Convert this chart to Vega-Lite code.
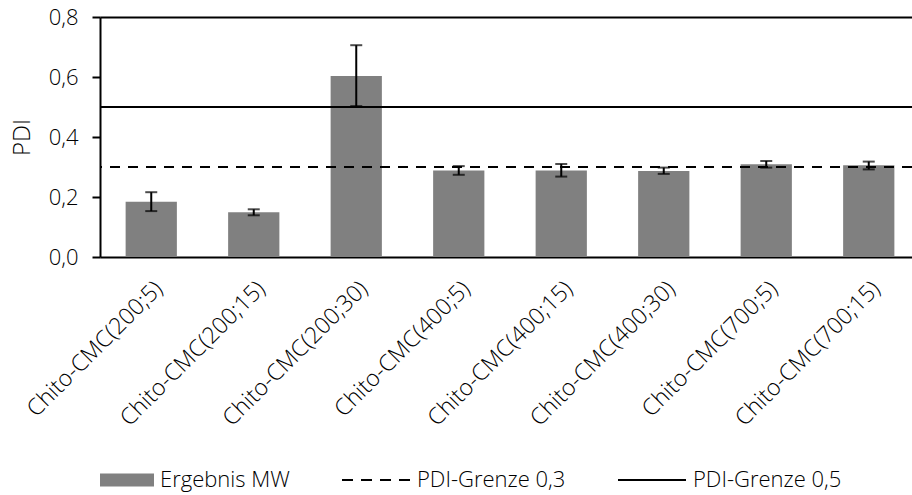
{
  "$schema": "https://vega.github.io/schema/vega-lite/v6.json",
  "autosize": {"type": "none"},
  "width": 812,
  "height": 240,
  "padding": {"left": 100, "top": 17, "right": 0, "bottom": 238},
  "background": "white",
  "config": {
    "view": {"stroke": null},
    "font": "Open Sans",
    "axis": {"labelFont": "Open Sans", "titleFont": "Open Sans", "labelColor": "#000000", "titleColor": "#000000", "labelFontWeight": 300, "titleFontWeight": 300},
    "legend": {"labelFont": "Open Sans", "labelColor": "#000000", "labelFontWeight": 300}
  },
  "data": {
    "values": [
      {"probe": "Chito-CMC(200;5)", "mw": 0.184, "lo": 0.153, "hi": 0.216},
      {"probe": "Chito-CMC(200;15)", "mw": 0.149, "lo": 0.139, "hi": 0.159},
      {"probe": "Chito-CMC(200;30)", "mw": 0.603, "lo": 0.503, "hi": 0.706},
      {"probe": "Chito-CMC(400;5)", "mw": 0.288, "lo": 0.274, "hi": 0.303},
      {"probe": "Chito-CMC(400;15)", "mw": 0.288, "lo": 0.268, "hi": 0.310},
      {"probe": "Chito-CMC(400;30)", "mw": 0.287, "lo": 0.277, "hi": 0.298},
      {"probe": "Chito-CMC(700;5)", "mw": 0.309, "lo": 0.298, "hi": 0.320},
      {"probe": "Chito-CMC(700;15)", "mw": 0.306, "lo": 0.292, "hi": 0.318}
    ]
  },
  "encoding": {
    "x": {
      "field": "probe",
      "type": "nominal",
      "sort": null,
      "scale": {"range": [0, 820], "paddingInner": 0.5, "paddingOuter": 0.25},
      "axis": {
        "title": null,
        "labelAngle": -45,
        "labelFontSize": 23,
        "labelPadding": 20,
        "ticks": false,
        "domainColor": "#000000",
        "domainWidth": 2,
        "labelLimit": 400
      }
    }
  },
  "layer": [
    {
      "mark": {"type": "bar", "color": "#808080"},
      "encoding": {
        "y": {
          "field": "mw",
          "type": "quantitative",
          "scale": {"domain": [0, 0.8], "nice": false},
          "axis": {
            "title": "PDI",
            "titleFontSize": 24,
            "titlePadding": 14,
            "values": [0, 0.2, 0.4, 0.6, 0.8],
            "labelExpr": "replace(format(datum.value, '.1f'), '.', ',')",
            "labelFontSize": 22,
            "labelPadding": 14,
            "tickSize": 8,
            "tickWidth": 2,
            "tickColor": "#000000",
            "domainColor": "#000000",
            "domainWidth": 2,
            "grid": true,
            "gridColor": "#000000",
            "gridWidth": 2,
            "gridOpacity": {"condition": {"test": "datum.value > 0.7", "value": 1}, "value": 0}
          }
        },
        "color": {
          "datum": "Ergebnis MW",
          "type": "nominal",
          "scale": {"domain": ["Ergebnis MW", "PDI-Grenze 0,3", "PDI-Grenze 0,5"], "range": ["#808080", "#000000", "#000000"]},
          "legend": {
            "title": null,
            "orient": "none",
            "legendX": -16,
            "legendY": 428,
            "direction": "horizontal",
            "columns": 3,
            "columnPadding": 48,
            "labelFontSize": 22,
            "labelOffset": 6,
            "symbolSize": 4624,
            "encode": {
              "symbols": {
                "update": {
                  "shape": {"signal": "datum.value === 'Ergebnis MW' ? 'M-0.53,-0.16H1V0.16H-0.53Z' : 'M-1,0H1'"},
                  "fill": {"signal": "datum.value === 'Ergebnis MW' ? '#808080' : 'transparent'"},
                  "stroke": {"signal": "datum.value === 'Ergebnis MW' ? 'transparent' : '#000000'"},
                  "strokeDash": {"signal": "datum.value === 'PDI-Grenze 0,3' ? [11, 8] : [1, 0]"},
                  "strokeWidth": {"value": 2},
                  "opacity": {"value": 1},
                  "fillOpacity": {"value": 1},
                  "strokeOpacity": {"value": 1}
                }
              }
            }
          }
        }
      }
    },
    {
      "mark": {"type": "rule", "color": "#000000", "strokeWidth": 2},
      "encoding": {
        "y": {"field": "lo", "type": "quantitative"},
        "y2": {"field": "hi"}
      }
    },
    {
      "mark": {"type": "tick", "color": "#000000", "thickness": 2, "size": 12, "orient": "horizontal"},
      "encoding": {"y": {"field": "lo", "type": "quantitative"}}
    },
    {
      "mark": {"type": "tick", "color": "#000000", "thickness": 2, "size": 12, "orient": "horizontal"},
      "encoding": {"y": {"field": "hi", "type": "quantitative"}}
    },
    {
      "data": {"values": [{"grenze": 0.3}]},
      "mark": {"type": "rule", "strokeWidth": 2, "strokeDash": [10, 8]},
      "encoding": {
        "x": null,
        "y": {"field": "grenze", "type": "quantitative"},
        "color": {"datum": "PDI-Grenze 0,3", "type": "nominal"}
      }
    },
    {
      "data": {"values": [{"grenze": 0.5}]},
      "mark": {"type": "rule", "strokeWidth": 2},
      "encoding": {
        "x": null,
        "y": {"field": "grenze", "type": "quantitative"},
        "color": {"datum": "PDI-Grenze 0,5", "type": "nominal"}
      }
    }
  ]
}
